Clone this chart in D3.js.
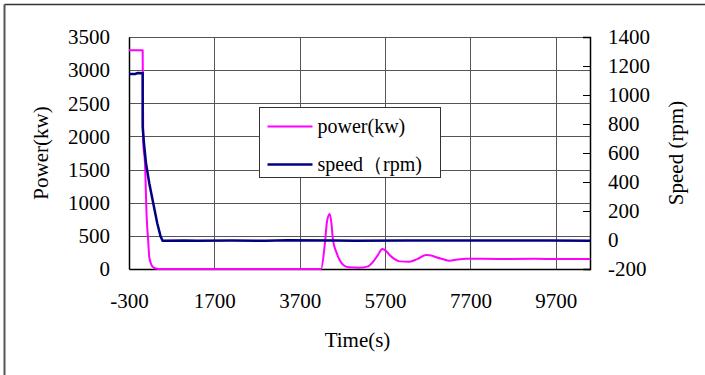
<!DOCTYPE html>
<html>
<head>
<meta charset="utf-8">
<script src="https://cdn.jsdelivr.net/npm/d3@7"></script>
<style>
  body { margin: 0; background: #fff; }
  svg { display: block; }
  text { font-family: "Liberation Serif", "Times New Roman", serif; fill: #000; }
</style>
</head>
<body>
<svg id="chart" width="705" height="375"></svg>
<script>
// ============= Data =============
const xTicks = [-300, 1700, 3700, 5700, 7700, 9700];
const powerTicks = [0, 500, 1000, 1500, 2000, 2500, 3000, 3500];
const speedTicks = [-200, 0, 200, 400, 600, 800, 1000, 1200, 1400];

// power (kw) vs time (s)
const powerTime = [-300, 20, 34, 74, 114, 150, 175, 220, 268, 330, 425, 4200, 4285, 4340, 4401, 4440, 4479, 4560, 4635, 4720, 4850, 5100, 5300, 5420, 5530, 5634, 5720, 5805, 5920, 6039, 6273, 6450, 6663, 6780, 6897, 7050, 7208, 7400, 7598, 8378, 9200, 10000, 10500];
const powerValue = [3300, 3300, 1900, 1600, 785, 420, 181, 70, 26, 8, 0, 0, 360, 720, 830, 700, 438, 250, 136, 60, 26, 20, 40, 110, 210, 302, 275, 211, 150, 115, 110, 150, 211, 205, 177, 150, 125, 145, 155, 151, 153, 150, 152];

// speed (rpm) vs time (s)
const speedTime = [-300, -150, -100, 20, 20, 51, 98, 175, 268, 362, 441, 488, 1000, 1300, 2100, 2900, 3400, 4500, 5000, 6200, 7600, 8600, 9500, 10500];
const speedValue = [1145, 1145, 1152, 1150, 781, 667, 529, 391, 253, 115, 23, -5, -3, -5, -3, -5, -2, -4, -5, -3, -4, -3, -4, -5];

// ============= Layout =============
const W = 705, H = 375;
const M = { LEFT: 129, TOP: 37, RIGHT: 590, BOTTOM: 269 };
const GRID = "#555";
const PINK = "#ff00ff";
const NAVY = "#000080";
const FONT = "21px";
const SERIF = "Liberation Serif, Times New Roman, serif";

const svg = d3.select("#chart");

// frame (top and left edges only)
svg.append("line").attr("x1", 4.5).attr("x2", W).attr("y1", 4.5).attr("y2", 4.5)
  .attr("stroke", "#333").attr("stroke-width", 1.5);
svg.append("line").attr("x1", 4.5).attr("x2", 4.5).attr("y1", 4.5).attr("y2", H)
  .attr("stroke", "#555").attr("stroke-width", 2);

const x = d3.scaleLinear().domain([-300, 10500]).range([M.LEFT, M.RIGHT]);
const yP = d3.scaleLinear().domain([0, 3500]).range([M.BOTTOM, M.TOP]);
const yS = d3.scaleLinear().domain([-200, 1400]).range([M.BOTTOM, M.TOP]);

// gridlines
svg.append("g").selectAll("line").data(powerTicks.filter((d) => d > 0)).enter().append("line")
  .attr("x1", M.LEFT).attr("x2", M.RIGHT)
  .attr("y1", (d) => Math.round(yP(d)) + 0.5).attr("y2", (d) => Math.round(yP(d)) + 0.5)
  .attr("stroke", GRID).attr("stroke-width", 1);
svg.append("g").selectAll("line").data(xTicks.filter((d) => d > -300)).enter().append("line")
  .attr("x1", (d) => Math.round(x(d)) + 0.5).attr("x2", (d) => Math.round(x(d)) + 0.5)
  .attr("y1", M.TOP).attr("y2", M.BOTTOM)
  .attr("stroke", GRID).attr("stroke-width", 1);

// axes
const plainFormat = (d) => (d < 0 ? "-" + Math.abs(d) : String(d));
const leftAxis = svg.append("g").attr("transform", `translate(${M.LEFT},0)`)
  .call(d3.axisLeft(yP).tickValues(powerTicks).tickSize(0).tickPadding(19).tickFormat(plainFormat));
const rightAxis = svg.append("g").attr("transform", `translate(${M.RIGHT},0)`)
  .call(d3.axisRight(yS).tickValues(speedTicks).tickSize(-7).tickPadding(18).tickFormat(plainFormat));
const bottomAxis = svg.append("g").attr("transform", `translate(0,${M.BOTTOM})`)
  .call(d3.axisBottom(x).tickValues(xTicks).tickSize(0).tickPadding(24).tickFormat(plainFormat));

[leftAxis, rightAxis, bottomAxis].forEach((axis) => {
  axis.attr("font-family", SERIF).attr("font-size", FONT);
  axis.select(".domain").attr("stroke", "#000").attr("stroke-width", 1.5);
  axis.selectAll(".tick line").attr("stroke", "#000");
  axis.selectAll("text").attr("fill", "#000");
});

// lines
const powerLine = d3.line().x((d, i) => x(powerTime[i])).y((d) => yP(d)).curve(d3.curveMonotoneX);
const speedLine = d3.line().x((d, i) => x(speedTime[i])).y((d) => yS(d));

svg.append("path").datum(powerValue).attr("d", powerLine)
  .attr("fill", "none").attr("stroke", PINK).attr("stroke-width", 2).attr("stroke-linejoin", "round");
svg.append("path").datum(speedValue).attr("d", speedLine)
  .attr("fill", "none").attr("stroke", NAVY).attr("stroke-width", 2.5);

// axis titles
svg.append("text").attr("x", (M.LEFT + M.RIGHT) / 2 - 2).attr("y", 347)
  .attr("text-anchor", "middle").style("font-size", "21px").text("Time(s)");
svg.append("text").attr("transform", `translate(48,153) rotate(-90)`)
  .attr("text-anchor", "middle").style("font-size", "21px").text("Power(kw)");
svg.append("text").attr("transform", `translate(683,153) rotate(-90)`)
  .attr("text-anchor", "middle").style("font-size", "21px").text("Speed (rpm)");

// legend
const legend = svg.append("g").attr("transform", "translate(259.5,107.5)");
legend.append("rect").attr("width", 181).attr("height", 70)
  .attr("fill", "#fff").attr("stroke", "#333").attr("stroke-width", 1);
const legendItems = [
  { label: "power(kw)", color: PINK, width: 2 },
  { label: "speed\uFF08rpm)", color: NAVY, width: 2.5 },
];
legendItems.forEach((item, i) => {
  const yy = 19 + i * 38;
  legend.append("line").attr("x1", 8).attr("x2", 53).attr("y1", yy).attr("y2", yy)
    .attr("stroke", item.color).attr("stroke-width", item.width);
  legend.append("text").attr("x", 58).attr("y", yy + 6).style("font-size", "20px").text(item.label);
});
</script>
</body>
</html>
